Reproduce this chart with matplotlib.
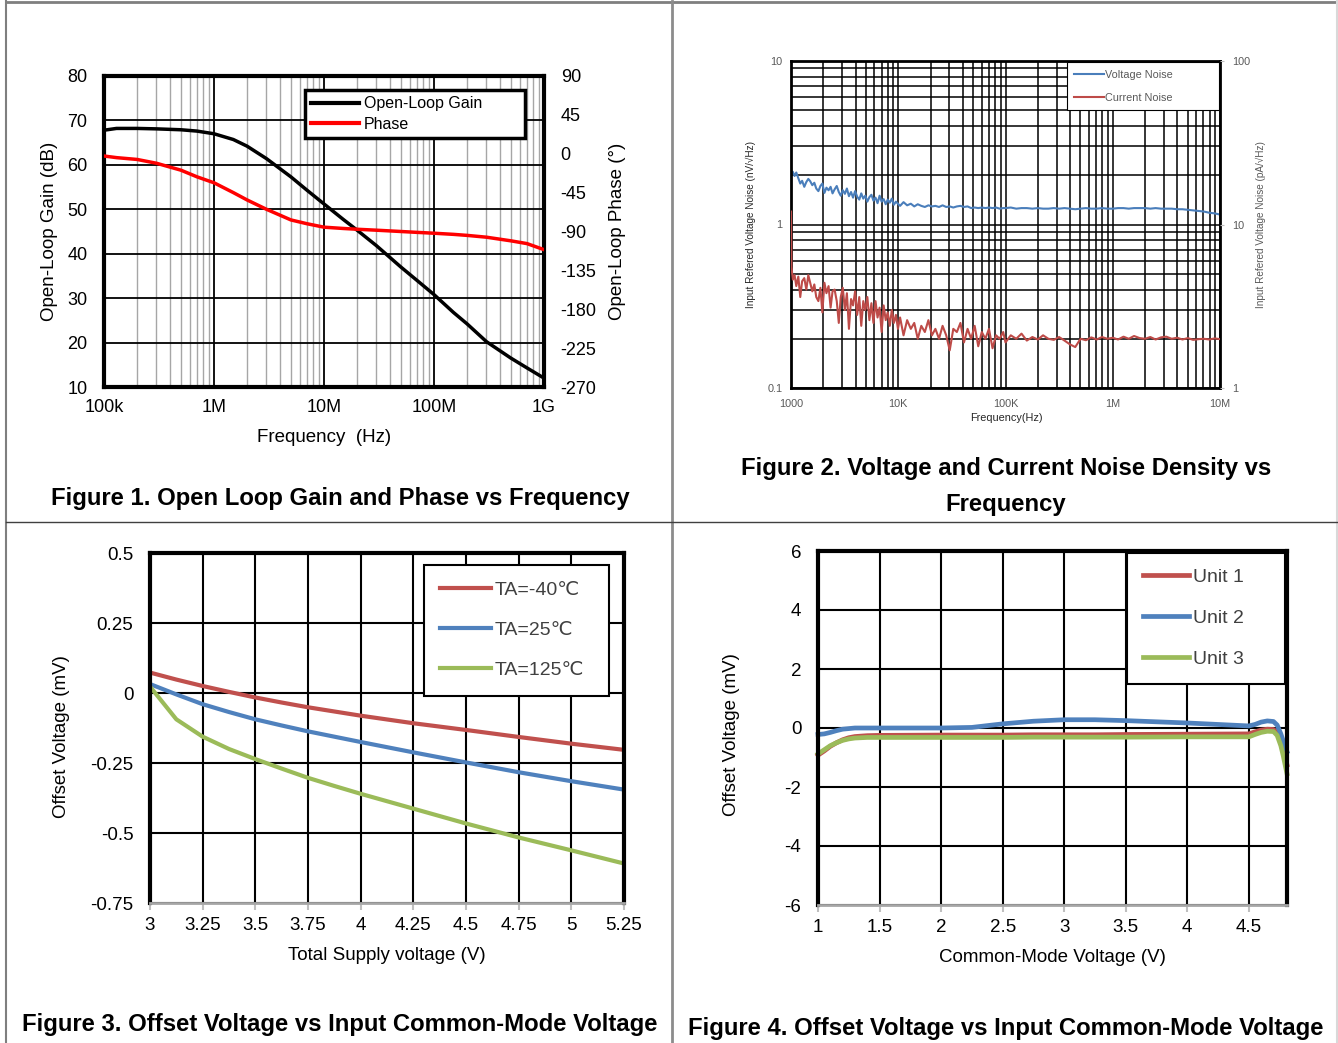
import matplotlib
matplotlib.use('agg')
import matplotlib.pyplot as plt
from matplotlib.ticker import FixedLocator, LogLocator, NullFormatter
from matplotlib.lines import Line2D

plt.rcParams['font.family'] = ['Liberation Sans', 'DejaVu Sans']
plt.rcParams['axes.unicode_minus'] = False

# ---- Figure 1: open loop gain / phase ----
f1 = [1e5, 1.3e5, 2e5, 3e5, 5e5, 7e5, 1e6, 1.5e6, 2e6, 3e6, 5e6, 7e6, 1e7,
      1.5e7, 2e7, 3e7, 5e7, 7e7, 1e8, 1.5e8, 2e8, 3e8, 5e8, 7e8, 1e9]
gain = [67.8, 68.2, 68.2, 68.1, 67.9, 67.6, 67.0, 65.7, 64.2, 61.4, 57.3, 54.3, 51.2,
        47.7, 45.3, 41.8, 37.0, 34.0, 30.8, 26.8, 24.2, 20.2, 16.5, 14.3, 12.0]
phase = [-2.6, -4.5, -6.6, -11, -19, -26.7, -33.6, -45, -53.5, -64.3, -76.6, -81, -85,
         -86.5, -87.4, -88.5, -90, -91, -92, -93.3, -94.5, -96.6, -100.8, -104, -111]

# ---- Figure 2: noise density ----
freq_n = [1000, 1010, 1040, 1080, 1120, 1170, 1220, 1270, 1330, 1390, 1450, 1510, 1580, 1650,
          1720, 1800, 1880, 1960, 2050, 2140, 2240, 2340, 2440, 2550, 2670, 2790, 2910, 3040,
          3180, 3320, 3470, 3630, 3790, 3960, 4140, 4330, 4520, 4720, 4930, 5150, 5380, 5620,
          5870, 6140, 6410, 6700, 7000, 7310, 7640, 7980, 8340, 8710, 9100, 9510, 9940,
          10400, 11200, 12100, 13100, 14100, 15200, 16400, 17700, 19100, 20600, 22200, 24000,
          25900, 28000, 30200, 32600, 35200, 38000, 41000, 44300, 47800, 51600, 55700, 60100,
          64900, 70100, 75700, 81700, 88200, 95200,
          100000, 112000, 126000, 141000, 158000, 178000, 200000, 224000, 251000, 282000,
          316000, 355000, 398000, 447000, 501000, 562000, 631000, 708000, 794000, 891000,
          1000000, 1120000, 1260000, 1410000, 1580000, 1780000, 2000000, 2240000, 2510000,
          2820000, 3160000, 3550000, 3980000, 4470000, 5010000, 5620000, 6310000, 7080000,
          7940000, 8910000, 10000000]
v_noise = [2.25, 2.05, 2.1, 1.98, 2.08, 1.92, 1.78, 1.85, 1.7, 1.82, 1.9, 1.84, 1.74, 1.8,
           1.66, 1.6, 1.72, 1.78, 1.56, 1.68, 1.62, 1.7, 1.55, 1.64, 1.72, 1.58, 1.5, 1.62,
           1.54, 1.66, 1.49, 1.58, 1.46, 1.6, 1.48, 1.42, 1.55, 1.44, 1.5, 1.38, 1.47, 1.52,
           1.4, 1.46, 1.35, 1.5, 1.38, 1.43, 1.33, 1.42, 1.36, 1.44, 1.32, 1.38, 1.34,
           1.3, 1.37, 1.31, 1.34, 1.29, 1.33, 1.3, 1.28, 1.31, 1.29, 1.3, 1.28,
           1.31, 1.28, 1.29, 1.27, 1.29, 1.3, 1.28, 1.29, 1.26, 1.27, 1.26, 1.27,
           1.26, 1.27, 1.26, 1.27, 1.25, 1.26,
           1.26, 1.27, 1.25, 1.26, 1.26, 1.25, 1.26, 1.25, 1.25, 1.26,
           1.25, 1.26, 1.25, 1.24, 1.25, 1.26, 1.25, 1.25, 1.26, 1.25,
           1.25, 1.26, 1.26, 1.25, 1.26, 1.26, 1.26, 1.25, 1.26,
           1.25, 1.25, 1.25, 1.24, 1.24, 1.23, 1.22, 1.21, 1.2,
           1.18, 1.17, 1.15]
i_noise = [12.0, 5.5, 4.6, 4.9, 4.2, 4.8, 3.6, 4.5, 4.7, 4.0, 4.9, 4.4, 3.9, 4.3,
           3.6, 3.4, 4.1, 2.9, 4.4, 3.8, 4.2, 3.1, 3.9, 4.0, 3.4, 2.5, 3.6, 4.1,
           3.0, 3.8, 2.3, 3.5, 3.2, 3.9, 2.8, 3.6, 2.4, 3.4, 3.0, 3.6, 2.6, 3.3,
           2.5, 3.4, 2.7, 3.1, 2.2, 3.2, 2.6, 2.9, 2.4, 3.0, 2.5, 2.8, 2.3,
           2.7, 2.1, 2.6, 2.3, 2.5, 2.0, 2.4, 2.2, 2.6, 2.1, 2.3, 2.0,
           2.4, 2.1, 1.7, 2.3, 2.2, 2.5, 1.9, 2.3, 2.0, 2.4, 1.8, 2.2,
           2.0, 2.3, 1.75, 2.1, 2.0, 2.2,
           1.9, 2.1, 2.0, 2.15, 1.95, 2.05, 1.98, 2.1, 2.0, 1.97,
           2.05, 1.95, 1.85, 1.78, 2.0, 1.96, 2.04, 1.98, 2.05, 2.0,
           2.03, 1.98, 2.06, 2.0, 2.08, 2.02, 2.0, 2.05, 1.98,
           2.04, 2.06, 2.0, 2.03, 1.98, 2.02, 1.97, 1.99, 2.0,
           1.98, 2.01, 1.99]

# ---- Figure 3: offset vs supply ----
vs = [3, 3.125, 3.25, 3.375, 3.5, 3.625, 3.75, 3.875, 4, 4.25, 4.5, 4.75, 5, 5.25]
vos_m40 = [0.073, 0.048, 0.025, 0.004, -0.016, -0.034, -0.051, -0.066, -0.081, -0.108,
           -0.132, -0.157, -0.181, -0.203]
vos_25 = [0.032, -0.005, -0.04, -0.068, -0.094, -0.116, -0.137, -0.156, -0.175, -0.212,
          -0.248, -0.283, -0.315, -0.345]
vos_125 = [0.023, -0.094, -0.156, -0.2, -0.236, -0.27, -0.303, -0.332, -0.36, -0.413,
           -0.466, -0.516, -0.562, -0.609]
vs_ticks = [3, 3.25, 3.5, 3.75, 4, 4.25, 4.5, 4.75, 5, 5.25]
vs_labels = ['3', '3.25', '3.5', '3.75', '4', '4.25', '4.5', '4.75', '5', '5.25']

# ---- Figure 4: offset vs common mode ----
vcm = [1.0, 1.05, 1.1, 1.15, 1.2, 1.25, 1.3, 1.4, 1.5, 2.0, 2.25, 2.5, 2.75, 3.0, 3.25,
       3.5, 4.0, 4.5, 4.55, 4.6, 4.65, 4.7, 4.73, 4.76, 4.78, 4.81]
unit1 = [-0.92, -0.78, -0.62, -0.5, -0.4, -0.33, -0.29, -0.26, -0.25, -0.24, -0.24, -0.24,
         -0.23, -0.23, -0.23, -0.22, -0.21, -0.2, -0.13, -0.07, -0.04, -0.05, -0.15, -0.45,
         -0.75, -1.25]
unit2 = [-0.22, -0.2, -0.15, -0.09, -0.04, -0.02, 0.0, 0.0, 0.0, 0.0, 0.02, 0.14, 0.23,
         0.28, 0.28, 0.25, 0.17, 0.07, 0.12, 0.2, 0.24, 0.22, 0.1, -0.2, -0.45, -0.8]
unit3 = [-0.88, -0.74, -0.6, -0.5, -0.42, -0.37, -0.34, -0.32, -0.32, -0.32, -0.32, -0.32,
         -0.31, -0.31, -0.31, -0.31, -0.3, -0.3, -0.22, -0.15, -0.11, -0.12, -0.25, -0.6,
         -0.95, -1.55]

W, H = 1338, 1043
fig = plt.figure(figsize=(W / 100, H / 100), dpi=100)


def box(x0, y0, x1, y1):
    return fig.add_axes([x0 / W, 1 - y1 / H, (x1 - x0) / W, (y1 - y0) / H])


def ftext(x, y, s, **kw):
    kw.setdefault('ha', 'center')
    kw.setdefault('va', 'center')
    fig.text(x / W, 1 - y / H, s, **kw)


def fline(xs, ys, **kw):
    fig.add_artist(Line2D([x / W for x in xs], [1 - y / H for y in ys],
                          transform=fig.transFigure, **kw))


# cell borders
fline([6, 6], [1, H], color='#7f7f7f', lw=1.5)
fline([6, 1338], [1.5, 1.5], color='#7f7f7f', lw=2)
fline([1336.5, 1336.5], [1, H], color='#d9d9d9', lw=1.5)
fline([672, 672], [1, H], color='#8c8c8c', lw=2)
fline([6, 1338], [522, 522], color='#404040', lw=1)

# ================= Figure 1 =================
ax1 = box(104, 76, 544, 387)
ax1.set_xscale('log')
ax1.set_xlim(1e5, 1e9)
ax1.set_ylim(10, 80)
ax1.set_yticks(range(10, 81, 10))
ax1.xaxis.set_major_locator(FixedLocator([1e5, 1e6, 1e7, 1e8, 1e9]))
ax1.set_xticklabels(['100k', '1M', '10M', '100M', '1G'])
ax1.xaxis.set_minor_locator(LogLocator(base=10, subs=range(2, 10)))
ax1.xaxis.set_minor_formatter(NullFormatter())
ax1.grid(which='minor', axis='x', color='#a6a6a6', lw=1)
ax1.grid(which='major', color='black', lw=1.3)
ax1.tick_params(which='both', length=0, labelsize=13)
ax1.tick_params(axis='x', pad=9)
ax1.tick_params(axis='y', pad=12)
for s in ax1.spines.values():
    s.set_linewidth(3)
l_gain, = ax1.plot(f1, gain, color='black', lw=2.5, label='Open-Loop Gain')

ax1b = ax1.twinx()
ax1b.set_ylim(-270, 90)
ax1b.set_yticks(range(-270, 91, 45))
ax1b.tick_params(length=0, labelsize=13, pad=12)
for s in ax1b.spines.values():
    s.set_visible(False)
l_phase, = ax1b.plot(f1, phase, color='#ff0000', lw=2.5, label='Phase')
leg1 = ax1b.legend([l_gain, l_phase], ['Open-Loop Gain', 'Phase'], loc='upper left',
                   bbox_to_anchor=(0.457, 0.955, 0.5, 0.0), mode='expand', borderaxespad=0,
                   fontsize=11.5, handlelength=3.0, handletextpad=0.3, labelspacing=0.35,
                   borderpad=0.4, fancybox=False, framealpha=1, edgecolor='black')
leg1.get_frame().set_linewidth(2.5)
for ln in leg1.get_lines():
    ln.set_linewidth(3)
leg1.set_zorder(10)

ftext(50, 231, 'Open-Loop Gain (dB)', rotation=90, fontsize=13.5)
ftext(617, 231, 'Open-Loop Phase (°)', rotation=90, fontsize=13.5)
ftext(324, 437, 'Frequency  (Hz)', fontsize=13.5)
ftext(340, 498, 'Figure 1. Open Loop Gain and Phase vs Frequency', fontsize=17.2,
      fontweight='bold')

# ================= Figure 2 =================
grey = '#595959'
ax2 = box(791, 61, 1220, 388)
ax2.set_xscale('log')
ax2.set_yscale('log')
ax2.set_xlim(1e3, 1e7)
ax2.set_ylim(0.1, 10)
ax2.xaxis.set_major_locator(FixedLocator([1e3, 1e4, 1e5, 1e6, 1e7]))
ax2.set_xticklabels(['1000', '10K', '100K', '1M', '10M'])
ax2.yaxis.set_major_locator(FixedLocator([0.1, 1, 10]))
ax2.set_yticklabels(['0.1', '1', '10'])
for a in (ax2.xaxis, ax2.yaxis):
    a.set_minor_locator(LogLocator(base=10, subs=range(2, 10)))
    a.set_minor_formatter(NullFormatter())
ax2.grid(which='both', color='black', lw=1.1)
ax2.tick_params(which='both', length=0, labelsize=7.8, labelcolor=grey)
ax2.tick_params(axis='x', pad=8)
ax2.tick_params(axis='y', pad=6)
for s in ax2.spines.values():
    s.set_linewidth(2)
ax2.plot(freq_n, v_noise, color='#4a7ebb', lw=1.5)
l_v = Line2D([], [], color='#4a7ebb', lw=1.5)

ax2b = ax2.twinx()
ax2b.set_yscale('log')
ax2b.set_ylim(1, 100)
ax2b.yaxis.set_major_locator(FixedLocator([1, 10, 100]))
ax2b.set_yticklabels(['1', '10', '100'])
ax2b.yaxis.set_minor_locator(FixedLocator([]))
ax2b.tick_params(length=3, color='#bfbfbf', labelsize=7.8, labelcolor=grey, pad=6)
for s in ax2b.spines.values():
    s.set_visible(False)
l_i, = ax2b.plot(freq_n, i_noise, color='#be4b48', lw=1.5)
leg2 = ax2b.legend([l_v, l_i], ['Voltage Noise', 'Current Noise'], loc='upper left',
                   bbox_to_anchor=(0.643, 0.997, 0.354, 0.0), mode='expand', borderaxespad=0,
                   fontsize=7.8, handlelength=2.7, handletextpad=0.1, labelspacing=1.2,
                   borderpad=0.7, fancybox=False, framealpha=1, edgecolor='black',
                   labelcolor=grey)
leg2.get_frame().set_linewidth(0.8)

ftext(751, 225, 'Input Refered Voltage Noise (nV/√Hz)', rotation=90, fontsize=7.2,
      color='#262626')
ftext(1261, 225, 'Input Refered Voltage Noise (pA/√Hz)', rotation=90, fontsize=7.2,
      color=grey)
ftext(1006, 418, 'Frequency(Hz)', fontsize=7.8, color='#262626')
ftext(1006, 468, 'Figure 2. Voltage and Current Noise Density vs', fontsize=17.2,
      fontweight='bold')
ftext(1006, 504, 'Frequency', fontsize=17.2, fontweight='bold')


def excel_axes(ax):
    ax.grid(color='black', lw=1.5)
    for k in ('left', 'top', 'right'):
        ax.spines[k].set_linewidth(3)
    ax.spines['bottom'].set_linewidth(2)
    ax.spines['bottom'].set_color('#a6a6a6')
    ax.tick_params(axis='y', length=0, labelsize=13.5, pad=12)
    ax.tick_params(axis='x', length=5, width=1.5, color='#bfbfbf', labelsize=13.5, pad=5)


# ================= Figure 3 =================
ax3 = box(150, 553, 624, 903)
ax3.set_xlim(3, 5.25)
ax3.set_ylim(-0.75, 0.5)
ax3.set_xticks(vs_ticks)
ax3.set_xticklabels(vs_labels)
ax3.set_yticks([-0.75, -0.5, -0.25, 0, 0.25, 0.5])
ax3.set_yticklabels(['-0.75', '-0.5', '-0.25', '0', '0.25', '0.5'])
excel_axes(ax3)
ax3.plot(vs, vos_m40, color='#c0504d', lw=3, label='TA=-40℃')
ax3.plot(vs, vos_25, color='#4f81bd', lw=3, label='TA=25℃')
ax3.plot(vs, vos_125, color='#9bbb59', lw=3, label='TA=125℃')
leg3 = ax3.legend(loc='upper left', bbox_to_anchor=(0.578, 0.966, 0.39, 0.0), mode='expand',
                  borderaxespad=0, fontsize=14, handlelength=2.6, handletextpad=0.2,
                  labelspacing=1.15, borderpad=0.85, fancybox=False, framealpha=1,
                  edgecolor='black', labelcolor='#404040')
leg3.get_frame().set_linewidth(1.5)
ftext(62, 737, 'Offset Voltage (mV)', rotation=90, fontsize=13.5)
ftext(387, 955, 'Total Supply voltage (V)', fontsize=13.5)
ftext(340, 1025, 'Figure 3. Offset Voltage vs Input Common-Mode Voltage', fontsize=17.2,
      fontweight='bold')

# ================= Figure 4 =================
ax4 = box(818, 551, 1287, 905)
ax4.set_xlim(1, 4.81)
ax4.set_ylim(-6, 6)
ax4.set_xticks([1, 1.5, 2, 2.5, 3, 3.5, 4, 4.5])
ax4.set_xticklabels(['1', '1.5', '2', '2.5', '3', '3.5', '4', '4.5'])
ax4.set_yticks([-6, -4, -2, 0, 2, 4, 6])
excel_axes(ax4)
ax4.plot(vcm, unit1, color='#c0504d', lw=3.4, label='Unit 1', clip_on=False)
ax4.plot(vcm, unit2, color='#4f81bd', lw=3.4, label='Unit 2', clip_on=False)
ax4.plot(vcm, unit3, color='#9bbb59', lw=3.4, label='Unit 3', clip_on=False)
leg4 = ax4.legend(loc='upper left', bbox_to_anchor=(0.659, 0.994, 0.337, 0.0), mode='expand',
                  borderaxespad=0, fontsize=14, handlelength=2.4, handletextpad=0.2,
                  labelspacing=1.2, borderpad=0.8, fancybox=False, framealpha=1,
                  edgecolor='black', labelcolor='#404040')
leg4.get_frame().set_linewidth(1.5)
ftext(731, 735, 'Offset Voltage (mV)', rotation=90, fontsize=13.5)
ftext(1052, 957, 'Common-Mode Voltage (V)', fontsize=13.5)
ftext(1006, 1028, 'Figure 4. Offset Voltage vs Input Common-Mode Voltage', fontsize=17.2,
      fontweight='bold')

fig.savefig('out.png', dpi=100)
